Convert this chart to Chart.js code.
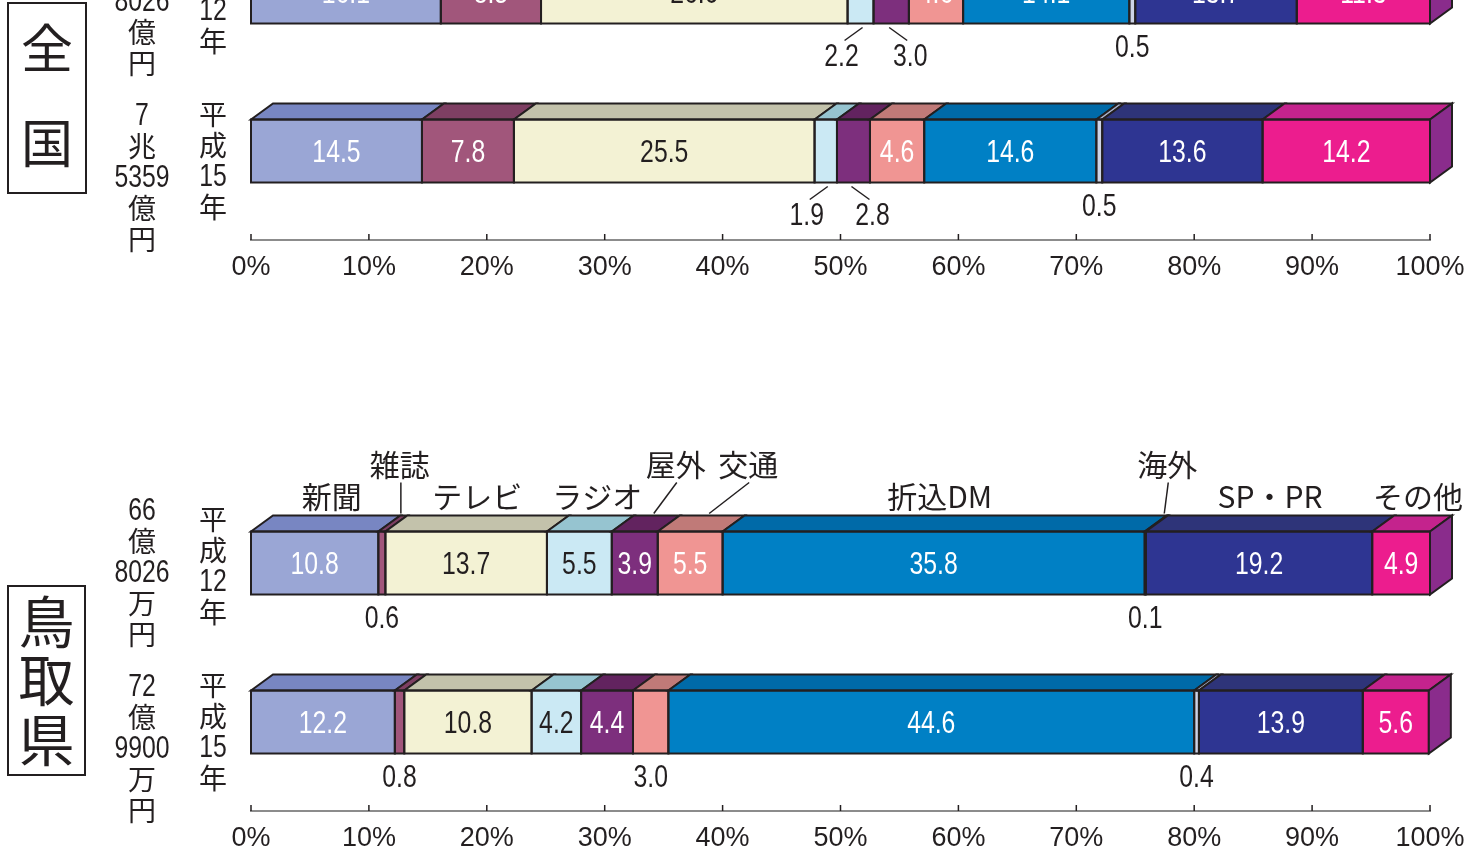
<!DOCTYPE html>
<html lang="ja">
<head>
<meta charset="utf-8">
<script src="https://cdn.jsdelivr.net/npm/chart.js@4.4.1/dist/chart.umd.min.js"></script>
<style>
html, body { margin: 0; padding: 0; background: #fff; }
body { width: 1479px; height: 852px; overflow: hidden; position: relative; }
canvas { position: absolute; left: 0; }
#zenkoku { top: -131px; }
#tottori { top: 440px; }
</style>
</head>
<body>
<canvas id="zenkoku" width="1479" height="412"></canvas>
<canvas id="tottori" width="1479" height="412"></canvas>
<script>
// データ（構成比 %）
const media = ['新聞', '雑誌', 'テレビ', 'ラジオ', '屋外', '交通', '折込DM', '海外', 'SP・PR', 'その他'];
const years = ['平成12年', '平成15年'];
const zenkokuH12 = [16.1, 8.5, 26.0, 2.2, 3.0, 4.6, 14.1, 0.5, 13.7, 11.3];
const zenkokuH15 = [14.5, 7.8, 25.5, 1.9, 2.8, 4.6, 14.6, 0.5, 13.6, 14.2];
const tottoriH12 = [10.8, 0.6, 13.7, 5.5, 3.9, 5.5, 35.8, 0.1, 19.2, 4.9];
const tottoriH15 = [12.2, 0.8, 10.8, 4.2, 4.4, 3.0, 44.6, 0.4, 13.9, 5.6];
const zenkokuTotals = ['7兆8026億円', '7兆5359億円'];
const tottoriTotals = ['66億8026万円', '72億9900万円'];
const xTicks = [0, 10, 20, 30, 40, 50, 60, 70, 80, 90, 100];

// 見た目
const frontColors = ['#9aa6d5', '#a1567b', '#f3f2d4', '#cbe9f4', '#7d2f7d', '#f09593', '#0080c5', '#cdd3e6', '#2e3592', '#ec1d8e'];
const topColors = ['#7886c2', '#7e3f63', '#c3c2ab', '#96c4d0', '#62235f', '#c07a78', '#006aa8', '#a9b0c8', '#2e3479', '#c4238d'];
const darkText = [false, false, true, true, false, false, false, false, false, false];
const sideColor = '#8a2c8c';
const LINE = '#231f20';
const NUM = '"Liberation Sans", Arial, sans-serif';
const JP = '"Noto Sans CJK JP", sans-serif';
const DX = 22, DY = 16;
const SMALL = 3.5;
// 上段ラベルの引き出し線（横方向のずれ）
const leaderOffset = { '雑誌': 18, '屋外': 41, '交通': 58, '海外': 22 };
const labelShift = { '新聞': 6, 'ラジオ': 7, '折込DM': -5, 'その他': 6 };
const totalStart = [-53, -36];
const yearStart = [-44, -37];

function splitVertical(text) {
    return text.match(/\d+|./g);
}

// 細めの数字（横方向に縮める）
function narrowText(ctx, s, x, y) {
    ctx.save();
    ctx.font = '31px ' + NUM;
    ctx.translate(x, y);
    ctx.scale(0.8, 1);
    ctx.fillText(s, 0, 0);
    ctx.restore();
}

function drawStack(ctx, lines, x, y0) {
    lines.forEach((s, k) => {
        const y = y0 + k * 31;
        if (/^\d+$/.test(s)) {
            narrowText(ctx, s, x, y + 1);
        } else {
            ctx.font = '28px ' + JP;
            ctx.fillText(s, x, y);
        }
    });
}

function barBox(bar) {
    const top = bar.y - bar.height / 2;
    return { l: bar.base, r: bar.x, top: top, bot: top + bar.height, c: (bar.base + bar.x) / 2 };
}

// 立体の棒・数値ラベル
const bars3d = {
    id: 'bars3d',
    afterDatasetsDraw(chart) {
        const ctx = chart.ctx;
        const n = chart.data.datasets.length;
        ctx.save();
        ctx.lineWidth = 2;
        ctx.strokeStyle = LINE;
        ctx.lineJoin = 'miter';
        chart.data.datasets.forEach((ds, i) => {
            chart.getDatasetMeta(i).data.forEach(bar => {
                const b = barBox(bar);
                ctx.beginPath();
                ctx.moveTo(b.l, b.top);
                ctx.lineTo(b.l + DX, b.top - DY);
                ctx.lineTo(b.r + DX, b.top - DY);
                ctx.lineTo(b.r, b.top);
                ctx.closePath();
                ctx.fillStyle = topColors[i];
                ctx.fill();
                ctx.stroke();
                ctx.strokeRect(b.l, b.top, b.r - b.l, b.bot - b.top);
                if (i === n - 1) {
                    ctx.beginPath();
                    ctx.moveTo(b.r, b.top);
                    ctx.lineTo(b.r + DX, b.top - DY);
                    ctx.lineTo(b.r + DX, b.bot - DY);
                    ctx.lineTo(b.r, b.bot);
                    ctx.closePath();
                    ctx.fillStyle = sideColor;
                    ctx.fill();
                    ctx.stroke();
                }
            });
        });

        // 数値
        ctx.textAlign = 'center';
        ctx.textBaseline = 'middle';
        ctx.lineWidth = 1.5;
        const nBars = chart.getDatasetMeta(0).data.length;
        for (let j = 0; j < nBars; j++) {
            const vals = chart.data.datasets.map(ds => ds.data[j].x);
            vals.forEach((v, i) => {
                const b = barBox(chart.getDatasetMeta(i).data[j]);
                const txt = v.toFixed(1);
                if (v >= SMALL) {
                    ctx.fillStyle = darkText[i] ? LINE : '#fff';
                    narrowText(ctx, txt, b.c, (b.top + b.bot) / 2 + 2);
                    return;
                }
                ctx.fillStyle = LINE;
                const leftOfPair = i + 1 < vals.length && vals[i + 1] < SMALL;
                const rightOfPair = i > 0 && vals[i - 1] < SMALL;
                if (leftOfPair || rightOfPair) {
                    const s = leftOfPair ? -1 : 1;
                    ctx.beginPath();
                    ctx.moveTo(b.c - s * 2, b.bot + 4);
                    ctx.lineTo(b.c + s * 16, b.bot + 17);
                    ctx.stroke();
                    narrowText(ctx, txt, b.c + s * 19, b.bot + 34);
                } else {
                    narrowText(ctx, txt, b.c, b.bot + 25);
                }
            });
        }
        ctx.restore();
    }
};

// 媒体名（上段の棒の上）
const mediaLabels = {
    id: 'mediaLabels',
    afterDatasetsDraw(chart, args, opts) {
        if (!opts.show) return;
        const ctx = chart.ctx;
        ctx.save();
        ctx.textAlign = 'center';
        ctx.textBaseline = 'middle';
        ctx.font = '30px ' + JP;
        ctx.fillStyle = LINE;
        ctx.strokeStyle = LINE;
        ctx.lineWidth = 1.5;
        chart.data.datasets.forEach((ds, i) => {
            const b = barBox(chart.getDatasetMeta(i).data[0]);
            const back = b.top - DY;
            const name = ds.label;
            if (name in leaderOffset) {
                const lx = b.c + leaderOffset[name];
                ctx.beginPath();
                ctx.moveTo(b.c + 19, back - 2);
                ctx.lineTo(lx + 1, back - 33);
                ctx.stroke();
                ctx.fillText(name, lx, back - 51);
            } else {
                ctx.fillText(name, b.c + DX / 2 + (labelShift[name] || 0), back - 19);
            }
        });
        ctx.restore();
    }
};

// 左側の地域名・総額・年、目盛線
const sideInfo = {
    id: 'sideInfo',
    afterDraw(chart, args, opts) {
        const ctx = chart.ctx;
        const y = chart.scales.y;
        ctx.save();
        ctx.strokeStyle = LINE;
        ctx.lineWidth = 2;
        ctx.strokeRect(opts.box[0], opts.box[1], opts.box[2] - opts.box[0], opts.box[3] - opts.box[1]);
        ctx.fillStyle = LINE;
        ctx.textAlign = 'center';
        ctx.textBaseline = 'middle';
        ctx.font = opts.boxFont + 'px ' + JP;
        const cx = (opts.box[0] + opts.box[2]) / 2;
        opts.region.split('').forEach((ch, k) => ctx.fillText(ch, cx, opts.charY[k]));
        opts.totals.forEach((t, k) => {
            const c = y.getPixelForValue(k);
            drawStack(ctx, splitVertical(t), 142, c + totalStart[k]);
            drawStack(ctx, splitVertical(years[k]), 213, c + yearStart[k]);
        });
        // 目盛の短い線（上向き）
        const x = chart.scales.x;
        const base = chart.chartArea.bottom;
        ctx.lineWidth = 1.5;
        xTicks.forEach(v => {
            const px = x.getPixelForValue(v);
            ctx.beginPath();
            ctx.moveTo(px, base);
            ctx.lineTo(px, base - 6);
            ctx.stroke();
        });
        ctx.restore();
    }
};

function makeChart(id, h12, h15, totals, side, showMedia) {
    const datasets = media.map((name, i) => ({
        label: name,
        data: [{ y: 0, x: h12[i] }, { y: 1, x: h15[i] }],
        backgroundColor: frontColors[i],
        borderWidth: 0,
        barThickness: 63,
        stack: 'all'
    }));
    return new Chart(document.getElementById(id), {
        type: 'bar',
        data: { datasets: datasets },
        plugins: [bars3d, mediaLabels, sideInfo],
        options: {
            indexAxis: 'y',
            responsive: false,
            animation: false,
            events: [],
            layout: { padding: { left: 251, right: 49, top: 0, bottom: 0 } },
            scales: {
                x: {
                    type: 'linear',
                    stacked: true,
                    min: 0,
                    max: 100,
                    afterBuildTicks: s => { s.ticks = xTicks.map(v => ({ value: v })); },
                    afterFit: s => { s.height = 41; },
                    grid: { display: false, drawTicks: false },
                    border: { display: true, color: '#8c8c8c', width: 2 },
                    ticks: {
                        callback: v => v + '%',
                        color: LINE,
                        padding: 11,
                        maxRotation: 0,
                        autoSkip: false,
                        font: { family: NUM, size: 27 }
                    }
                },
                y: {
                    type: 'linear',
                    display: false,
                    offset: false,
                    reverse: true,
                    stacked: true,
                    min: -0.7736,
                    max: 1.5597
                }
            },
            plugins: {
                legend: { display: false },
                tooltip: { enabled: false },
                mediaLabels: { show: showMedia },
                sideInfo: Object.assign({ totals: totals }, side)
            }
        }
    });
}

makeChart('zenkoku', zenkokuH12, zenkokuH15, zenkokuTotals,
    { region: '全国', box: [8, 134, 86, 324], charY: [179, 274], boxFont: 52 }, false);
makeChart('tottori', tottoriH12, tottoriH15, tottoriTotals,
    { region: '鳥取県', box: [8, 146, 85, 335], charY: [182, 240, 300], boxFont: 56 }, true);
</script>
</body>
</html>
